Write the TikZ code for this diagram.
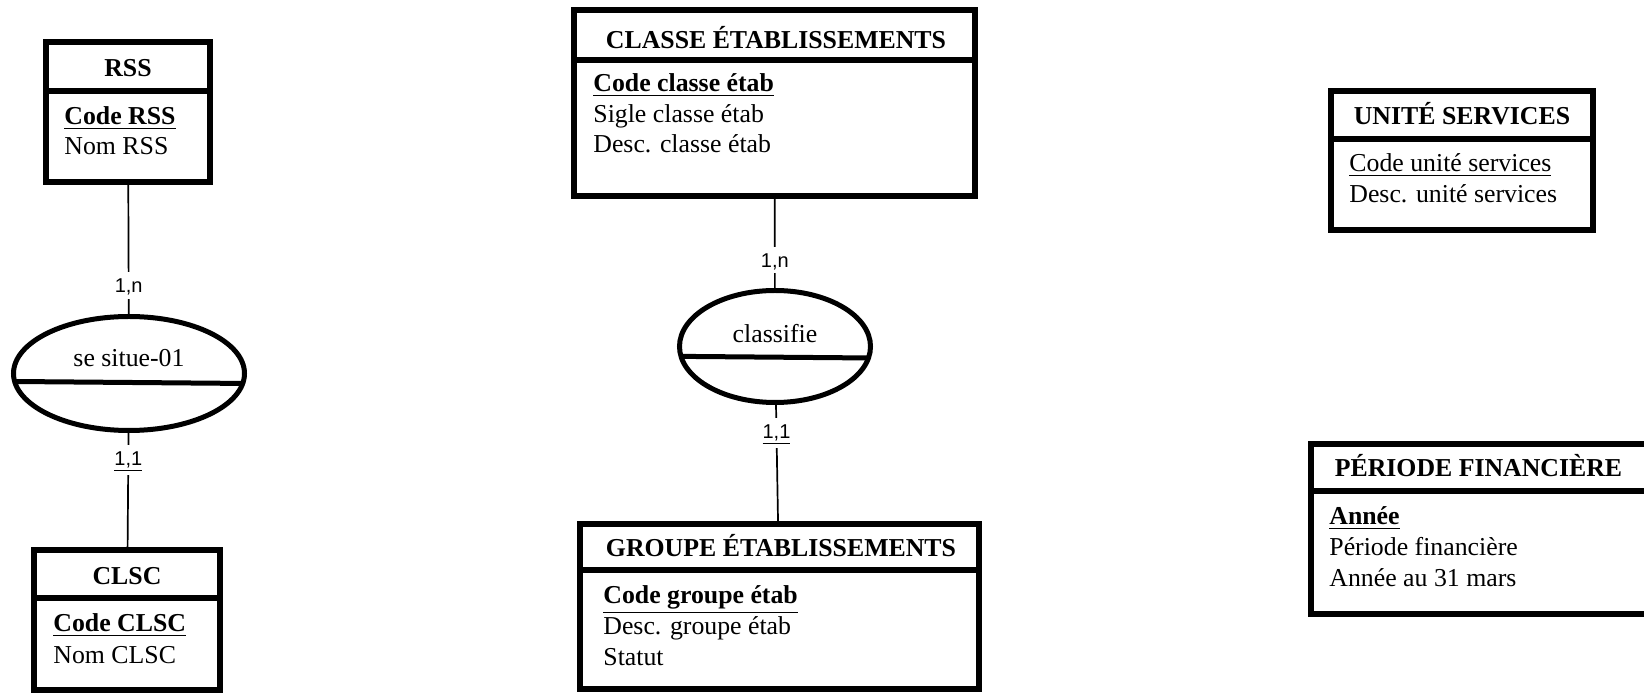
\documentclass[tikz,border=0pt]{standalone}
\usepackage{fontspec}
\setmainfont{Liberation Serif}
\newfontfamily\cardfont{Liberation Sans}
\usetikzlibrary{shapes.geometric}
\begin{document}
\begin{tikzpicture}[x=0.5pt,y=-0.5pt,
  entity/.style={draw, line width=3pt, rectangle, inner sep=0pt, outer sep=0pt},
  assoc/.style={draw, line width=2.5pt, ellipse, inner sep=0pt, outer sep=0pt},
  sepline/.style={line width=3pt},
  asep/.style={line width=2.5pt},
  title/.style={font=\fontsize{12.9}{15}\selectfont\bfseries, anchor=base, inner sep=0pt},
  attr/.style={font=\fontsize{12.9}{15}\selectfont, anchor=base west, inner sep=0pt},
  aname/.style={font=\fontsize{12.9}{15}\selectfont, anchor=base, inner sep=0pt},
  rel/.style={line width=0.85pt},
  card/.style={font=\cardfont\fontsize{10}{12}\selectfont, fill=white, inner xsep=1.5pt, inner ysep=3pt, text height=7.2pt, text depth=0pt},
  cardu/.style={card, text depth=1.8pt},
]
\useasboundingbox (0,0) rectangle (1644,694);
\fill[white] (0,0) rectangle (1644,694);
\clip (0,0) rectangle (1644,694);

% ---- RSS
\node[entity, minimum width=82pt, minimum height=70pt] (rss) at (128,112) {};
\draw[sepline] (rss.west |- 0,91) -- (rss.east |- 0,91);
\node[title] (rssT) at (128,76.7) {RSS};
\node[attr] (rssA1) at (64,125) {\bfseries\underline{Code RSS}};
\node[attr] (rssA2) at (64,155) {Nom RSS};

% ---- se situe-01
\node[assoc, minimum width=115.5pt, minimum height=57pt] (se) at (129,373.5) {};
\draw[asep] (se.184.77) -- (se.355.23);
\node[aname] (seT) at (129,367) {se situe-01};

% ---- CLSC
\node[entity, minimum width=93pt, minimum height=70pt] (clsc) at (127,620) {};
\draw[sepline] (clsc.west |- 0,598) -- (clsc.east |- 0,598);
\node[title] (clscT) at (127,585) {CLSC};
\node[attr] (clscA1) at (53,632) {\bfseries\underline{Code CLSC}};
\node[attr] (clscA2) at (53,663) {Nom CLSC};

% ---- CLASSE ETABLISSEMENTS
\node[entity, minimum width=200.5pt, minimum height=93pt] (classe) at (774.5,103) {};
\draw[sepline] (classe.west |- 0,60) -- (classe.east |- 0,60);
\node[title] (classeT) at (776,48.3) {CLASSE ÉTABLISSEMENTS};
\node[attr] (classeA1) at (593,92) {\bfseries\underline{Code classe étab}};
\node[attr] (classeA2) at (593,122.5) {Sigle classe étab};
\node[attr] (classeA3) at (593,153) {Desc. classe étab};

% ---- classifie
\node[assoc, minimum width=95.5pt, minimum height=56pt] (classifie) at (775,346.5) {};
\draw[asep] (classifie.186.39) -- (classifie.353.61);
\node[aname] (classifieT) at (775,342.7) {classifie};

% ---- GROUPE ETABLISSEMENTS
\node[entity, minimum width=199.5pt, minimum height=82.5pt] (groupe) at (779.5,606.5) {};
\draw[sepline] (groupe.west |- 0,570) -- (groupe.east |- 0,570);
\node[title] (groupeT) at (781,556.7) {GROUPE ÉTABLISSEMENTS};
\node[attr] (groupeA1) at (603,603.5) {\bfseries\underline{Code groupe étab}};
\node[attr] (groupeA2) at (603,634.5) {Desc. groupe étab};
\node[attr] (groupeA3) at (603,665.5) {Statut};

% ---- UNITE SERVICES
\node[entity, minimum width=131pt, minimum height=69.5pt] (unite) at (1462,160.5) {};
\draw[sepline] (unite.west |- 0,139) -- (unite.east |- 0,139);
\node[title] (uniteT) at (1462,125) {UNITÉ SERVICES};
\node[attr] (uniteA1) at (1349,172) {\underline{Code unité services}};
\node[attr] (uniteA2) at (1349,203) {Desc. unité services};

% ---- PERIODE FINANCIERE
\node[entity, minimum width=174.5pt, minimum height=85pt] (periode) at (1485.5,529) {};
\draw[sepline] (periode.west |- 0,491) -- (periode.east |- 0,491);
\node[title] (periodeT) at (1478.5,477) {PÉRIODE FINANCIÈRE};
\node[attr] (periodeA1) at (1329,525) {\bfseries\underline{Année}};
\node[attr] (periodeA2) at (1329,556) {Période financière};
\node[attr] (periodeA3) at (1329,587) {Année au 31 mars};

% ---- connectors
\draw[rel] (rss) -- node[card, pos=0.77] (c1) {1,n} (se);
\draw[rel] (se) -- node[cardu, pos=0.245] (c2) {\underline{1,1}} (clsc);
\draw[rel] (classe) -- node[card, pos=0.68] (c3) {1,n} (classifie);
\draw[rel] (classifie) -- node[cardu, pos=0.25] (c4) {\underline{1,1}} (groupe);
\end{tikzpicture}
\end{document}
